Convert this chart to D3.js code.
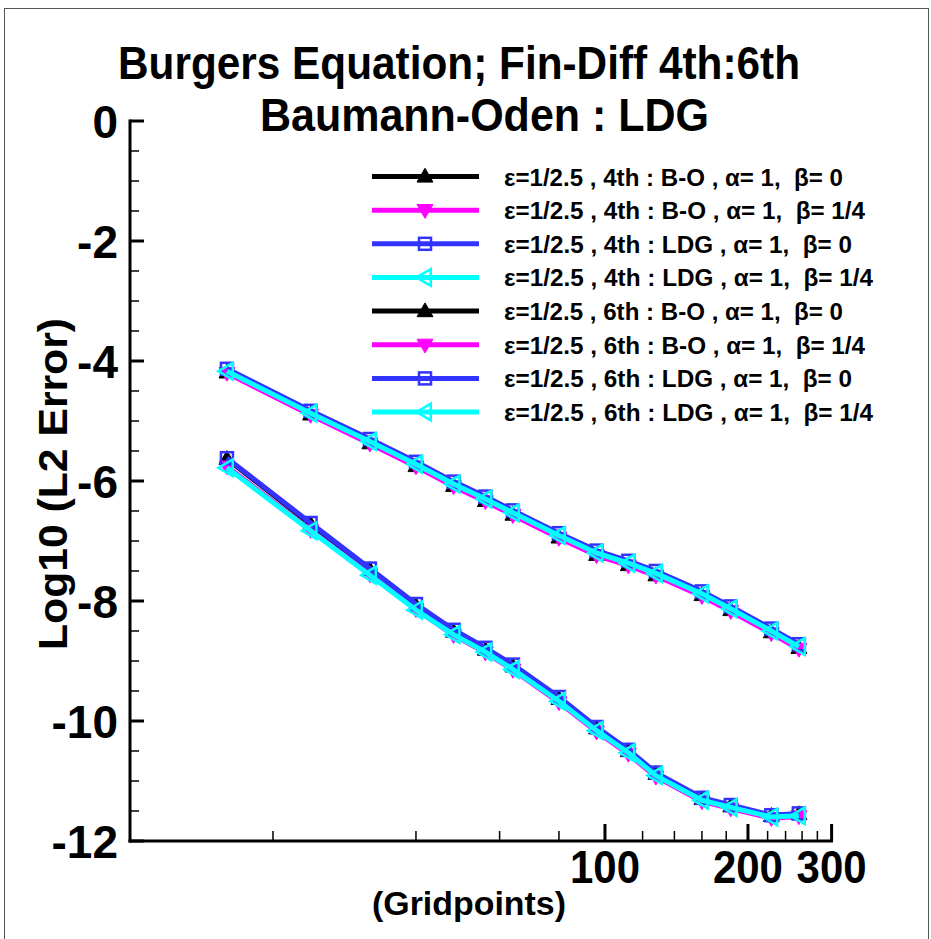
<!DOCTYPE html>
<html>
<head>
<meta charset="utf-8">
<script src="https://cdn.jsdelivr.net/npm/d3@7"></script>
<style>
  html, body { margin: 0; padding: 0; background: #fff; }
  svg text { font-family: "Liberation Sans Narrow", "Arial Narrow", "Liberation Sans", Arial, sans-serif; font-weight: bold; white-space: pre; fill: #000; }
</style>
</head>
<body>
<svg id="chart" width="931" height="939"></svg>
<script>
// ---------------- data ----------------
const titleLines = ["Burgers Equation; Fin-Diff 4th:6th", "Baumann-Oden : LDG"];
const xLabel = "(Gridpoints)";
const yLabel = "Log10 (L2 Error)";
const gridpoints = [16, 24, 32, 40, 48, 56, 64, 80, 96, 112, 128, 160, 184, 224, 256];
const yTicks = [0, -2, -4, -6, -8, -10, -12];
const xTickLabels = [100, 200, 300];
const xMinorTicks = [20, 40, 60, 80, 120, 140, 160, 180, 220, 240, 260, 280];

const seriesNames = [
  "\u03b5=1/2.5 , 4th : B-O , \u03b1= 1,  \u03b2= 0",
  "\u03b5=1/2.5 , 4th : B-O , \u03b1= 1,  \u03b2= 1/4",
  "\u03b5=1/2.5 , 4th : LDG , \u03b1= 1,  \u03b2= 0",
  "\u03b5=1/2.5 , 4th : LDG , \u03b1= 1,  \u03b2= 1/4",
  "\u03b5=1/2.5 , 6th : B-O , \u03b1= 1,  \u03b2= 0",
  "\u03b5=1/2.5 , 6th : B-O , \u03b1= 1,  \u03b2= 1/4",
  "\u03b5=1/2.5 , 6th : LDG , \u03b1= 1,  \u03b2= 0",
  "\u03b5=1/2.5 , 6th : LDG , \u03b1= 1,  \u03b2= 1/4"
];
const bo4_b0   = [-4.19, -4.89, -5.37, -5.75, -6.08, -6.33, -6.56, -6.94, -7.23, -7.40, -7.57, -7.90, -8.15, -8.52, -8.78];
const bo4_b14  = [-4.20, -4.90, -5.38, -5.76, -6.09, -6.34, -6.57, -6.95, -7.24, -7.41, -7.58, -7.92, -8.17, -8.54, -8.80];
const ldg4_b0  = [-4.13, -4.83, -5.30, -5.68, -6.01, -6.26, -6.49, -6.87, -7.16, -7.33, -7.50, -7.84, -8.09, -8.46, -8.72];
const ldg4_b14 = [-4.17, -4.87, -5.34, -5.72, -6.05, -6.30, -6.53, -6.91, -7.20, -7.37, -7.54, -7.88, -8.13, -8.50, -8.76];
const bo6_b0   = [-5.63, -6.72, -7.48, -8.08, -8.51, -8.81, -9.09, -9.63, -10.12, -10.50, -10.88, -11.30, -11.42, -11.58, -11.55];
const bo6_b14  = [-5.76, -6.82, -7.56, -8.14, -8.57, -8.86, -9.15, -9.69, -10.18, -10.55, -10.93, -11.34, -11.46, -11.62, -11.59];
const ldg6_b0  = [-5.62, -6.70, -7.46, -8.05, -8.48, -8.78, -9.06, -9.60, -10.10, -10.48, -10.86, -11.28, -11.40, -11.57, -11.54];
const ldg6_b14 = [-5.78, -6.83, -7.57, -8.15, -8.56, -8.85, -9.14, -9.67, -10.16, -10.53, -10.91, -11.32, -11.44, -11.60, -11.58];

const seriesValues = [bo4_b0, bo4_b14, ldg4_b0, ldg4_b14, bo6_b0, bo6_b14, ldg6_b0, ldg6_b14];
const seriesColors = ["#000000", "#ff00ff", "#3333ff", "#00ffff", "#000000", "#ff00ff", "#3333ff", "#00ffff"];
const seriesMarkers = ["up", "down", "square", "left", "up", "down", "square", "left"];

// ---------------- layout ----------------
const svg = d3.select("#chart");
const x = d3.scaleLog().domain([10, 300]).range([130, 831.6]);
const y = d3.scaleLinear().domain([-12, 0]).range([841, 121]);

// frame
svg.append("rect").attr("x", 4.5).attr("y", 8.5).attr("width", 924).attr("height", 940)
  .attr("fill", "none").attr("stroke", "#555").attr("stroke-width", 1);

function fitText(sel, w) {
  sel.attr("textLength", w).attr("lengthAdjust", "spacingAndGlyphs");
  return sel;
}

// title
fitText(svg.append("text").attr("x", 118).attr("y", 79).attr("font-size", 47).text(titleLines[0]), 682);
fitText(svg.append("text").attr("x", 260).attr("y", 131).attr("font-size", 47).text(titleLines[1]), 449);

// axes
const g = svg.append("g");
g.append("line").attr("x1", 130).attr("x2", 130).attr("y1", 119.5).attr("y2", 842.5)
  .attr("stroke", "#000").attr("stroke-width", 3);
g.append("line").attr("x1", 128.5).attr("x2", 833).attr("y1", 841).attr("y2", 841)
  .attr("stroke", "#000").attr("stroke-width", 3);

// y ticks
const yMinor = d3.range(-12, 0.01, 0.5).filter(v => Math.abs(v % 2) > 1e-6);
yTicks.forEach(v => {
  g.append("line").attr("x1", 130).attr("x2", 144).attr("y1", y(v)).attr("y2", y(v))
    .attr("stroke", "#000").attr("stroke-width", 3);
});
yMinor.forEach(v => {
  g.append("line").attr("x1", 130).attr("x2", 139).attr("y1", y(v)).attr("y2", y(v))
    .attr("stroke", "#000").attr("stroke-width", 1.5);
});
yTicks.forEach(v => {
  g.append("text").attr("x", 118).attr("y", y(v) + 17).attr("text-anchor", "end")
    .attr("font-size", 46).text(v);
});

// x ticks
xTickLabels.forEach(v => {
  g.append("line").attr("x1", x(v)).attr("x2", x(v)).attr("y1", 841).attr("y2", 824)
    .attr("stroke", "#000").attr("stroke-width", 3);
});
xMinorTicks.forEach(v => {
  g.append("line").attr("x1", x(v)).attr("x2", x(v)).attr("y1", 841).attr("y2", 831)
    .attr("stroke", "#000").attr("stroke-width", 1.5);
});
xTickLabels.forEach(v => {
  fitText(g.append("text").attr("x", x(v) - 35).attr("y", 883).attr("font-size", 46).text(v), 70);
});

// axis titles
fitText(svg.append("text").attr("x", 372).attr("y", 915).attr("font-size", 34).text(xLabel), 194);
fitText(svg.append("text").attr("transform", "translate(67,650) rotate(-90)")
  .attr("font-size", 40).text(yLabel), 332);

// markers
function drawMarker(sel, type, color, cx, cy) {
  if (type === "up") {
    sel.append("path").attr("d", d3.symbol(d3.symbolTriangle, 110)())
      .attr("transform", `translate(${cx},${cy + 1})`).attr("fill", color).attr("stroke", color).attr("stroke-width", 1);
  } else if (type === "down") {
    sel.append("path").attr("d", d3.symbol(d3.symbolTriangle, 110)())
      .attr("transform", `translate(${cx},${cy - 1}) rotate(180)`).attr("fill", color).attr("stroke", color).attr("stroke-width", 1);
  } else if (type === "square") {
    sel.append("rect").attr("x", cx - 6).attr("y", cy - 6).attr("width", 12).attr("height", 12)
      .attr("fill", "none").attr("stroke", color).attr("stroke-width", 2.5);
  } else if (type === "left") {
    sel.append("path").attr("d", d3.symbol(d3.symbolTriangle, 120)())
      .attr("transform", `translate(${cx + 1},${cy}) rotate(-90)`).attr("fill", "none").attr("stroke", color).attr("stroke-width", 2.5);
  }
}

// series
const line = d3.line().x(d => x(d[0])).y(d => y(d[1]));
const plot = svg.append("g");
seriesValues.forEach((vals, i) => {
  const pts = gridpoints.map((gp, j) => [gp, vals[j]]);
  const sg = plot.append("g");
  sg.append("path").attr("d", line(pts)).attr("fill", "none")
    .attr("stroke", seriesColors[i]).attr("stroke-width", 5).attr("stroke-linejoin", "round");
  pts.forEach(p => drawMarker(sg, seriesMarkers[i], seriesColors[i], x(p[0]), y(p[1])));
});

// legend
const legendWidths = [339, 361, 348, 369, 339, 361, 348, 369];
const leg = svg.append("g");
seriesNames.forEach((name, i) => {
  const ly = 176.5 + i * 33.65;
  leg.append("line").attr("x1", 372).attr("x2", 479).attr("y1", ly).attr("y2", ly)
    .attr("stroke", seriesColors[i]).attr("stroke-width", 5);
  drawMarker(leg, seriesMarkers[i], seriesColors[i], 425, ly);
  fitText(leg.append("text").attr("x", 504).attr("y", ly + 9).attr("font-size", 24.5).text(name), legendWidths[i]);
});
</script>
</body>
</html>
